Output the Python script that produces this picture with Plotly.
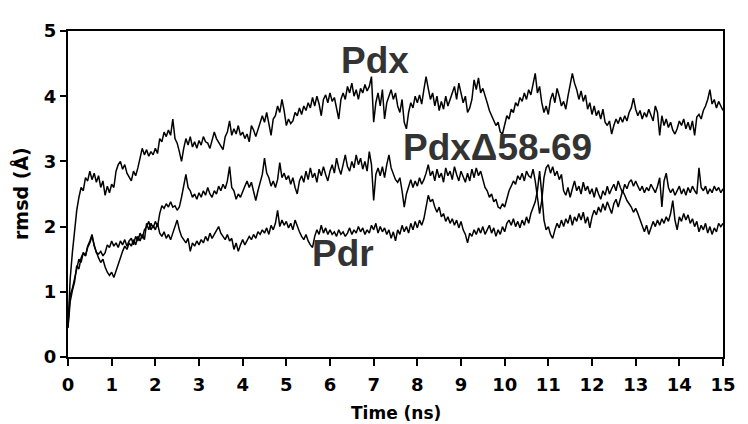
import plotly.graph_objects as go

TIME_STEP = 0.05

pdx = [
    0.45, 1.2, 1.6, 1.95, 2.25, 2.45, 2.6, 2.55, 2.75, 2.7, 2.85, 2.72, 2.82, 2.68, 2.78, 2.6, 2.7, 2.48, 2.62, 2.52,
    2.65, 2.6, 2.85, 2.95, 3.0, 2.88, 2.95, 2.82, 2.75, 2.7, 2.85, 2.78, 2.9, 3.05, 3.2, 3.1, 3.18, 3.08, 3.15, 3.1,
    3.2, 3.12, 3.35, 3.3, 3.45, 3.38, 3.48, 3.4, 3.65, 3.35, 3.28, 3.15, 3.0, 3.2, 3.35, 3.25, 3.38, 3.22, 3.3, 3.2,
    3.32, 3.25, 3.38, 3.3, 3.28, 3.2, 3.35, 3.45, 3.35, 3.3, 3.25, 3.18, 3.38, 3.45, 3.62, 3.4, 3.5, 3.42, 3.55, 3.4,
    3.45, 3.35, 3.42, 3.3, 3.55, 3.48, 3.38, 3.5, 3.62, 3.7, 3.6, 3.75, 3.58, 3.4, 3.65, 3.7, 3.85, 3.75, 3.95, 3.78,
    3.55, 3.65, 3.58, 3.62, 3.75, 3.7, 3.82, 3.72, 3.85, 3.78, 3.9, 3.82, 3.98, 3.85, 4.0, 3.88, 3.7, 3.95, 4.02, 3.9,
    4.05, 3.92, 3.98, 3.8, 3.65, 3.95, 4.05, 3.95, 4.15, 4.05, 4.2, 4.0, 4.1, 3.95, 4.12, 4.05, 4.18, 4.08, 4.15, 4.3,
    3.6, 3.9, 4.05, 3.85, 4.1, 3.65, 3.9, 4.0, 4.1, 3.95, 4.05, 3.85, 3.75, 3.95, 3.6, 3.5, 3.75, 3.9, 3.82, 4.0,
    3.9, 4.02, 3.88, 4.1, 4.3, 4.12, 3.95, 4.05, 3.85, 4.0, 3.78, 3.92, 3.8, 4.0, 3.85, 3.95, 4.05, 4.15, 3.95, 4.2,
    4.05, 3.9, 4.0, 3.75, 3.82, 3.95, 4.25, 4.1, 4.28, 4.05, 4.12, 4.02, 3.9, 3.78, 3.7, 3.62, 3.55, 3.6, 3.45, 3.42,
    3.55, 3.7, 3.65, 3.8, 3.75, 3.9, 3.85, 3.98, 3.92, 4.05, 3.95, 4.1, 4.02, 4.2, 4.35, 4.05, 4.15, 3.9, 3.75, 3.85,
    3.72, 3.95, 4.05, 3.9, 4.12, 4.0, 3.85, 3.92, 3.8, 4.0, 4.15, 4.35, 4.2, 4.1, 3.95, 4.08, 3.92, 4.02, 3.8, 3.9,
    3.72, 3.85, 3.7, 3.78, 3.65, 3.8, 3.6, 3.55, 3.62, 3.42, 3.55, 3.65, 3.58, 3.68, 3.6, 3.7, 3.62, 3.75, 3.82, 3.97,
    3.8, 3.7, 3.78, 3.65, 3.75, 3.68, 3.8, 3.7, 3.62, 3.85, 3.75, 3.4, 3.7, 3.55, 3.65, 3.52, 3.6, 3.48, 3.42, 3.5,
    3.62, 3.55, 3.65, 3.5, 3.6, 3.48, 3.62, 3.4, 3.68, 3.72, 3.65, 3.78, 3.85, 3.95, 4.1, 3.88, 3.95, 3.82, 3.92, 3.85,
    3.78,
]

pdx_d58_69 = [
    0.5, 0.95, 1.05, 1.2, 1.35, 1.5, 1.45, 1.6, 1.55, 1.7, 1.78, 1.88, 1.7, 1.6, 1.52, 1.45, 1.5, 1.38, 1.3, 1.25,
    1.3, 1.22, 1.32, 1.45, 1.55, 1.62, 1.7, 1.65, 1.75, 1.7, 1.8, 1.72, 1.85, 1.78, 1.88, 1.8, 2.05, 1.95, 2.05, 1.98,
    2.08, 2.0, 2.2, 2.32, 2.28, 2.35, 2.3, 2.38, 2.3, 2.32, 2.25, 2.3, 2.45, 2.6, 2.8, 2.6, 2.55, 2.45, 2.5, 2.42,
    2.52, 2.45, 2.55, 2.48, 2.6, 2.5, 2.45, 2.55, 2.5, 2.62, 2.55, 2.65, 2.58, 2.7, 2.92, 2.6, 2.55, 2.42, 2.5, 2.45,
    2.55, 2.62, 2.7, 2.6, 2.68, 2.55, 2.4, 2.55, 2.7, 2.8, 3.05, 2.82, 2.75, 2.62, 2.7, 2.6, 2.72, 2.98, 2.75, 2.82,
    2.72, 2.78, 2.65, 2.75, 2.6, 2.5, 2.7, 2.78, 2.68, 2.85, 2.72, 2.9, 2.75, 2.82, 2.68, 2.88, 2.78, 2.92, 2.8, 2.7,
    2.85, 2.95, 2.82, 3.05, 2.9, 2.8, 2.95, 3.1, 2.92, 2.85, 3.0, 2.9, 3.1, 2.95, 3.05, 2.88, 3.0, 2.85, 3.15, 2.95,
    2.4, 2.8, 2.9, 2.78, 2.92, 2.75, 2.95, 3.1, 2.9, 2.8, 2.72, 2.68, 2.75, 2.55, 2.3, 2.5, 2.62, 2.72, 2.6, 2.7,
    2.62, 2.75, 2.65, 2.72, 2.82, 2.95, 2.78, 2.85, 2.7, 2.88, 2.75, 2.82, 2.68, 2.9, 2.78, 2.85, 2.72, 2.92, 2.8, 2.7,
    2.85, 2.75, 2.68, 2.82, 2.7, 2.88, 2.75, 2.9, 2.78, 2.85, 2.72, 2.6, 2.55, 2.45, 2.5, 2.38, 2.42, 2.3, 2.28, 2.35,
    2.3, 2.42, 2.55, 2.62, 2.7, 2.65, 2.78, 2.72, 2.82, 2.7, 2.85, 2.78, 2.75, 2.88, 2.7, 2.45, 2.2, 2.4, 2.75, 2.9,
    2.95, 2.82, 2.92, 2.78, 2.85, 2.72, 2.8, 2.55, 2.48, 2.6, 2.45, 2.58, 2.7, 2.55, 2.62, 2.5, 2.68, 2.55, 2.62, 2.5,
    2.58, 2.45, 2.6, 2.5, 2.42, 2.55, 2.48, 2.62, 2.5, 2.58, 2.65, 2.55, 2.7, 2.6, 2.52, 2.65, 2.58, 2.68, 2.72, 2.62,
    2.7, 2.62, 2.55, 2.62, 2.52, 2.6, 2.55, 2.65, 2.58, 2.52, 2.62, 2.75, 2.3, 2.7, 2.82, 2.6, 2.52, 2.58, 2.48, 2.55,
    2.62, 2.5, 2.58, 2.48, 2.6, 2.52, 2.62, 2.55, 2.5, 2.9, 2.6, 2.55, 2.62, 2.5, 2.58, 2.52, 2.62, 2.55, 2.6, 2.52,
    2.58,
]

pdr = [
    0.45, 0.85, 1.02, 1.15, 1.4, 1.35, 1.52, 1.6, 1.55, 1.68, 1.75, 1.85, 1.72, 1.6, 1.58, 1.62, 1.55, 1.6, 1.72, 1.68,
    1.78, 1.7, 1.75, 1.68, 1.78, 1.72, 1.8, 1.7, 1.78, 1.82, 1.72, 1.85, 1.78, 1.9, 1.82, 1.95, 2.0, 2.08, 1.95, 2.02,
    1.95, 2.05, 1.9, 1.85, 1.92, 1.82, 1.88, 1.8, 1.9, 2.0, 2.1, 1.95, 1.85, 1.8, 1.75, 1.82, 1.62, 1.75, 1.7, 1.78,
    1.72, 1.8, 1.75, 1.85, 1.78, 1.9, 1.82, 1.88, 1.95, 2.0, 1.9, 1.85, 1.8, 1.88, 1.78, 1.82, 1.65, 1.75, 1.62, 1.72,
    1.8, 1.72, 1.78, 1.85, 1.8, 1.88, 1.82, 1.92, 1.88, 1.95, 1.9, 1.98, 1.88, 2.02, 1.95, 2.05, 2.25, 2.0, 2.1, 2.02,
    2.08, 1.98, 2.05, 1.95, 2.1, 2.0, 1.92, 1.85, 1.8, 1.88, 1.78, 1.72, 1.68, 1.85, 1.95, 1.88, 2.02, 1.9, 1.98, 1.88,
    1.95, 1.88, 1.92, 1.85, 1.95, 1.88, 1.92, 1.85, 1.9, 1.98, 1.88, 1.95, 1.9, 2.0, 1.92, 1.98, 1.88, 1.95, 1.9, 2.02,
    1.95, 2.05, 1.9, 2.0, 1.92, 1.98, 1.88, 1.95, 1.82, 1.92, 1.78, 1.95, 1.88, 2.02, 1.92, 2.0, 1.9, 2.05, 1.95, 2.08,
    1.98, 2.1, 2.02, 2.12, 2.3, 2.48, 2.38, 2.42, 2.3, 2.22, 2.3, 2.15, 2.2, 2.08, 2.15, 2.05, 2.12, 2.02, 2.1, 1.98,
    2.08, 1.95, 1.88, 1.75, 1.9, 1.85, 1.95, 1.88, 1.98, 1.9, 2.0, 1.88, 1.95, 2.02, 1.9, 1.98, 1.85, 1.95, 1.88, 2.0,
    1.92, 2.05, 2.1, 2.02, 2.12, 2.0, 2.08, 1.98, 2.1, 2.02, 2.15, 2.05, 2.2, 2.3, 2.38, 2.55, 2.85, 2.5, 2.1, 1.95,
    2.0, 1.88, 1.82, 1.95, 2.05, 1.98, 2.1, 2.0, 2.12, 2.05, 2.18, 2.02, 2.15, 2.08, 2.2, 2.1, 2.22, 2.05, 2.15, 1.98,
    2.15, 2.25, 2.18, 2.3, 2.22, 2.35, 2.25, 2.38, 2.3, 2.2, 2.35, 2.42, 2.3, 2.45, 2.55, 2.48, 2.4, 2.35, 2.3, 2.22,
    2.28, 2.2, 2.1, 2.0, 1.92, 2.02, 1.88, 1.98, 2.08, 2.0, 2.1, 2.02, 2.12, 2.05, 2.15, 2.08, 2.2, 2.4, 2.1, 1.95,
    2.15, 2.08, 2.2, 2.1, 2.18, 2.05, 2.12, 2.0, 2.08, 1.92, 2.02, 1.95, 2.05, 1.9, 2.0, 1.88, 1.98, 1.92, 2.05, 2.0,
    2.05,
]

times = [round(i * TIME_STEP, 2) for i in range(len(pdx))]

x_ticks = list(range(0, 16))
y_ticks = [0, 1, 2, 3, 4, 5]

series_labels = ["Pdx", "Pdx\u039458-69", "Pdr"]
label_pos = [(6.2, 4.54), (7.62, 3.21), (5.54, 1.59)]

fig = go.Figure()
for name, vals in [("Pdx", pdx), ("Pdx\u039458-69", pdx_d58_69), ("Pdr", pdr)]:
    fig.add_trace(go.Scatter(x=times, y=vals, mode="lines", name=name,
                             line=dict(color="black", width=1.5), showlegend=False))

for text, (lx, ly) in zip(series_labels, label_pos):
    fig.add_annotation(x=lx, y=ly, xref="x", yref="y", text=text, showarrow=False,
                       xanchor="left", yanchor="middle",
                       font=dict(family="Liberation Sans", size=37, color="#333333", weight="bold"))

tickfont = dict(family="DejaVu Sans", size=18, color="black", weight="bold")
fig.update_xaxes(range=[0, 15], tickvals=x_ticks, ticks="outside", ticklen=7, tickwidth=2,
                 tickcolor="black", showline=True, linecolor="black", linewidth=2, mirror=True,
                 showgrid=False, zeroline=False, tickfont=tickfont, ticklabelstandoff=3)
fig.update_yaxes(range=[0, 5], tickvals=y_ticks, ticks="outside", ticklen=6, tickwidth=2,
                 tickcolor="black", showline=True, linecolor="black", linewidth=2, mirror=True,
                 showgrid=False, zeroline=False, tickfont=tickfont)

fig.add_annotation(x=0.5, y=0, xref="paper", yref="paper", yshift=-56, text="Time (ns)",
                   showarrow=False, xanchor="center", yanchor="middle",
                   font=dict(family="DejaVu Sans", size=17, color="black", weight="bold"))
fig.add_annotation(x=0, y=0.5, xref="paper", yref="paper", xshift=-48, text="rmsd (\u00c5)",
                   textangle=-90, showarrow=False, xanchor="center", yanchor="middle",
                   font=dict(family="DejaVu Sans", size=19, color="black", weight="bold"))

# the page body adds an 8px offset, so the figure is 8px smaller and margins shifted
fig.update_layout(width=740, height=416, margin=dict(l=60, r=12, t=15, b=67),
                  plot_bgcolor="white", paper_bgcolor="white")

fig.write_html("out.html")
